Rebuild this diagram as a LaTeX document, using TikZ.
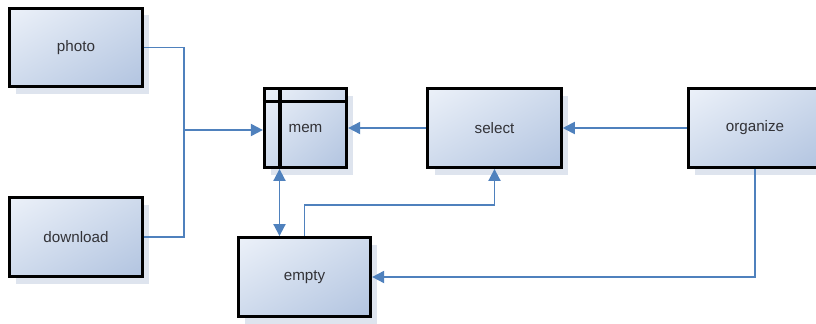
\documentclass[tikz,border=0pt]{standalone}
\usepackage{fontspec}
\setmainfont{Liberation Sans}
\usetikzlibrary{arrows.meta,shadows,shadings}
\definecolor{linkblue}{RGB}{79,129,189}
\definecolor{boxlight}{RGB}{236,241,249}
\definecolor{boxmid}{RGB}{206,218,236}
\definecolor{boxdark}{RGB}{178,196,224}
\definecolor{shadowcol}{RGB}{222,228,238}
\definecolor{textgray}{RGB}{50,50,55}
\tikzset{
  block/.style={draw=black, line width=2.4pt, rectangle,
    upper left=boxlight, upper right=boxmid, lower left=boxmid, lower right=boxdark,
    general shadow={fill=shadowcol, shadow xshift=5pt, shadow yshift=-5.5pt},
    minimum width=100pt, minimum height=59pt, inner sep=0pt,
    text=textgray, font=\fontsize{11.4pt}{13pt}\selectfont},
  link/.style={draw=linkblue, line width=1.4pt},
  tip/.style={link, -{Triangle[length=9pt,width=9pt]}},
  twotip/.style={link, {Triangle[length=9pt,width=9pt]}-{Triangle[length=9pt,width=9pt]}}
}
\begin{document}
\begin{tikzpicture}[x=0.75pt,y=-0.75pt]
  \useasboundingbox (0,0) rectangle (816,324);
  \clip (0,0) rectangle (816,324);
  \fill[white] (0,0) rectangle (816,324);

  % blocks
  \node[block] (photo)    at (76,47.5)  {photo};
  \node[block] (download) at (76,237)   {download};
  \node[block, minimum width=61.5pt] (mem) at (305.5,128) {mem};
  \node[block] (select)   at (494.5,128) {select};
  \node[block] (organize) at (755,128)  {organize};
  \node[block, minimum width=99pt] (empty) at (304.5,277) {empty};

  % table rulings inside mem
  \draw[line width=2.4pt] ([xshift=12.75pt]mem.north west) -- ([xshift=12.75pt]mem.south west);
  \draw[line width=2.4pt] ([yshift=-11pt]mem.north west) -- ([yshift=-11pt]mem.north east);

  % connectors
  \coordinate (join) at (184,130);
  \coordinate (stem) at (279.5,0);
  \draw[link] (photo.east) -| (join);
  \draw[link] (download.east) -| (join);
  \draw[tip] (join) -- (mem.west |- join);
  \draw[tip] (select.west) -- (mem.east);
  \draw[tip] (organize.west) -- (select.east);
  \draw[twotip] (stem |- mem.south) -- (stem |- empty.north);
  \draw[tip] (empty.north) -- ++(0,-31) -| (select.south);
  \draw[tip] (organize.south) |- (empty.east);
\end{tikzpicture}
\end{document}
